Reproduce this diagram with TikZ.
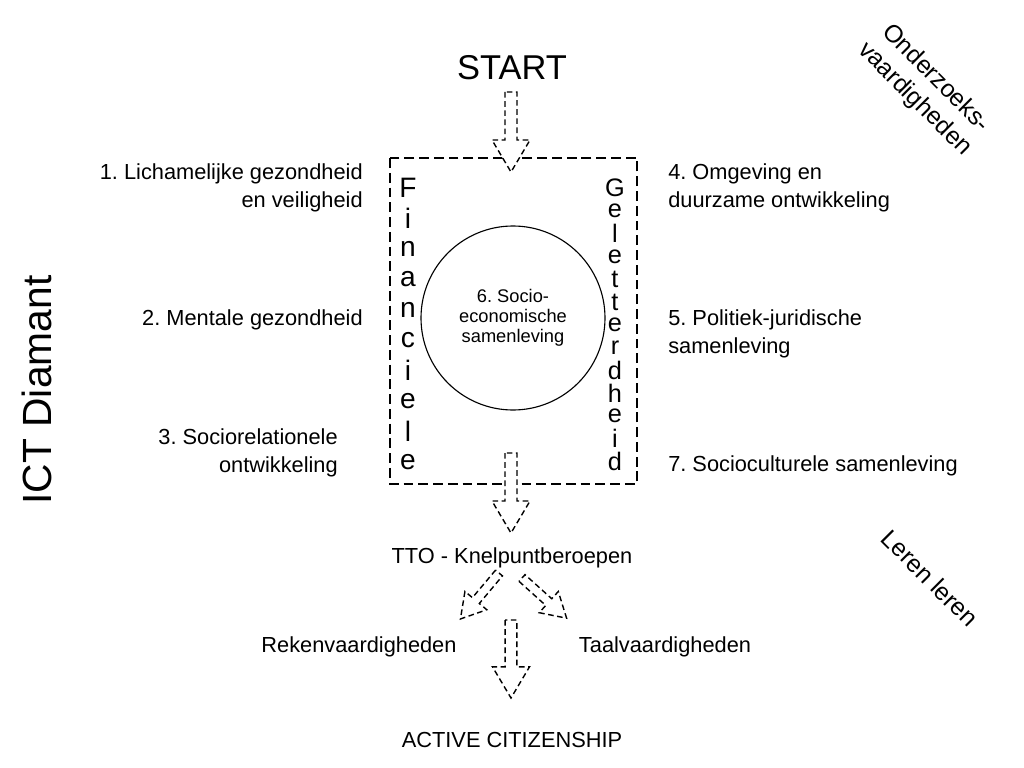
\documentclass[tikz,border=0pt]{standalone}
\usepackage{fontspec}
\setmainfont{Liberation Sans}
\usepackage{tikz}
\frenchspacing

\tikzset{
  lbl/.style={font=\fontsize{15.5}{20}\selectfont, inner sep=0pt},
  letter/.style={font=\fontsize{#1}{#1}\selectfont, inner sep=0pt},
  diag/.style={font=\fontsize{17.5}{21}\selectfont, inner sep=0pt, rotate=-45, align=center},
  dashbox/.style={line width=1.1pt, dash pattern=on 7pt off 3.5pt},
  blockarrow/.style={draw, fill=white, line width=1pt, dash pattern=on 4pt off 2.5pt}
}

% hollow dashed arrow: start point, angle, scale
\newcommand{\blockarrow}[3]{%
  \begin{scope}[shift={#1},rotate=#2,scale=#3]
    \draw[blockarrow] (0,-0.6) -- (4.8,-0.6) -- (4.8,-1.9) -- (8,0)
      -- (4.8,1.9) -- (4.8,0.6) -- (0,0.6) -- cycle;
  \end{scope}}

\begin{document}
\begin{tikzpicture}[scale=0.25]
\useasboundingbox (0,0) rectangle (102.4,-76.8);

% title and side labels
\node[font=\fontsize{24.5}{28}\selectfont, inner sep=0pt] (start) at (51.2,-6.8) {START};
\node[font=\fontsize{29}{32}\selectfont, inner sep=0pt, rotate=90] (ict) at (3.7,-39) {ICT Diamant};
\node[diag] (onderzoek) at (92.5,-8.9) {Onderzoeks-\\vaardigheden};
\node[diag] (leren) at (93,-57.8) {Leren leren};

% central box
\draw[dashbox] (39.0,-15.8) rectangle (63.7,-48.4);
\draw[line width=0.8pt] (51.3,-31.8) circle (9.2);
\node[font=\fontsize{13}{14.2}\selectfont, align=center, inner sep=0pt] (socio) at (51.3,-31.8)
  {6. Socio-\\economische\\samenleving};
\foreach \l [count=\i] in {F,i,n,a,n,c,i,e,l,e}
  \node[letter=20] (fin\i) at (40.8,{-18.8-3.04*(\i-1)}) {\l};
\foreach \l [count=\i] in {G,e,l,e,t,t,e,r,d,h,e,i,d}
  \node[letter=18] (gel\i) at (61.5,{-18.8-2.28*(\i-1)}) {\l};

% domains left
\node[lbl, align=right, anchor=east] (d1) at (36.3,-18.8) {1. Lichamelijke gezondheid\\en veiligheid};
\node[lbl, anchor=east] (d2) at (36.3,-32.0) {2. Mentale gezondheid};
\node[lbl, align=right, anchor=east] (d3) at (33.8,-45.3) {3. Sociorelationele\\ontwikkeling};

% domains right
\node[lbl, align=left, anchor=west] (d4) at (66.8,-18.8) {4. Omgeving en\\duurzame ontwikkeling};
\node[lbl, align=left, anchor=west] (d5) at (66.8,-33.4) {5. Politiek-juridische\\samenleving};
\node[lbl, anchor=west] (d7) at (66.8,-46.6) {7. Socioculturele samenleving};

% flow below
\node[lbl] (tto) at (51.2,-55.8) {TTO - Knelpuntberoepen};
\node[lbl] (reken) at (35.9,-64.7) {Rekenvaardigheden};
\node[lbl] (taal) at (66.5,-64.7) {Taalvaardigheden};
\node[lbl] (active) at (51.2,-74.0) {ACTIVE CITIZENSHIP};

% arrows
\blockarrow{(51.1,-9.2)}{-90}{1}
\blockarrow{(51.1,-45.3)}{-90}{1}
\blockarrow{(49.9,-57.3)}{-130}{0.75}
\blockarrow{(52.2,-57.8)}{-42}{0.75}
\blockarrow{(51.1,-62.0)}{-90}{0.975}
\end{tikzpicture}
\end{document}
